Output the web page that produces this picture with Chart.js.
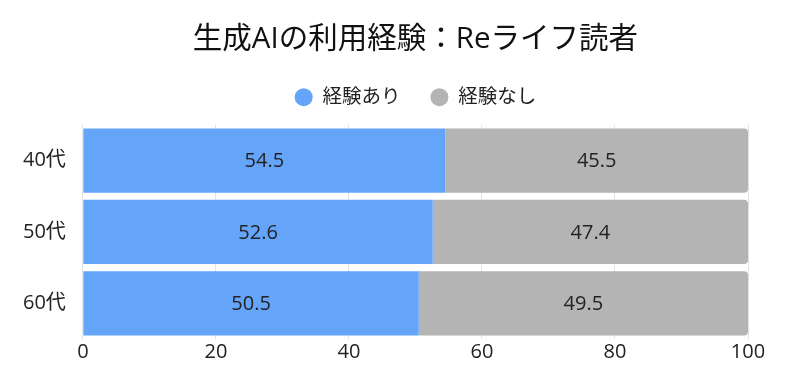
<!DOCTYPE html>
<html>
<head>
<meta charset="utf-8">
<script src="https://cdn.jsdelivr.net/npm/chart.js@4/dist/chart.umd.min.js"></script>
<style>
  html,body{margin:0;padding:0;background:#fff;}
</style>
</head>
<body>
<canvas id="chart" width="790" height="384"></canvas>
<script>
const ageGroups = ['40代', '50代', '60代'];
const usedValues = [54.5, 52.6, 50.5];
const notUsedValues = [45.5, 47.4, 49.5];
const xTicks = [0, 20, 40, 60, 80, 100];

const FONT = '"Open Sans", "Noto Sans CJK JP", sans-serif';

// values printed in the middle of each bar
const barLabels = {
  id: 'barLabels',
  afterDatasetsDraw(chart){
    const ctx = chart.ctx;
    ctx.save();
    ctx.font = '20px ' + FONT;
    ctx.fillStyle = '#222';
    ctx.textAlign = 'center';
    ctx.textBaseline = 'middle';
    chart.data.datasets.forEach((ds, i)=>{
      chart.getDatasetMeta(i).data.forEach((bar, j)=>{
        const p = bar.getProps(['x','y','base'], true);
        ctx.fillText(ds.data[j].toFixed(1), (p.x + p.base)/2, p.y + 1);
      });
    });
    ctx.restore();
  }
};

// a little extra room under the legend
const legendGap = {
  id: 'legendGap',
  beforeInit(chart){
    const fit = chart.legend.fit;
    chart.legend.fit = function(){ fit.call(this); this.height += 8; };
  }
};

new Chart(document.getElementById('chart'), {
  type: 'bar',
  data: {
    labels: ageGroups,
    datasets: [
      { label: '経験あり', data: usedValues, backgroundColor: '#64a5fa', categoryPercentage: 0.9, barPercentage: 1 },
      { label: '経験なし', data: notUsedValues, backgroundColor: '#b4b4b4', borderRadius: 4, categoryPercentage: 0.9, barPercentage: 1 }
    ]
  },
  options: {
    indexAxis: 'y',
    responsive: false,
    animation: false,
    layout: { padding: { left: 14, right: 42, bottom: 19 } },
    plugins: {
      title: { display: true, fullSize: false, text: '生成AIの利用経験：Reライフ読者', color: '#111',
        font: { family: FONT, size: 29.5, weight: 'normal' }, padding: { top: 22, bottom: 0 } },
      legend: { fullSize: false, labels: { usePointStyle: true, pointStyle: 'circle', boxWidth: 12.7, boxHeight: 12.7,
        pointStyleWidth: 18, padding: 30, color: '#222', font: { family: FONT, size: 19.5 } } },
      tooltip: { enabled: false }
    },
    scales: {
      x: { stacked: true, min: 0, max: 100,
        afterBuildTicks: (ax)=>{ ax.ticks = xTicks.map(v=>({ value: v })); },
        grid: { color: '#e2e2e2', drawTicks: false },
        border: { display: false },
        ticks: { color: '#222', padding: 1, font: { family: FONT, size: 20 } } },
      y: { stacked: true,
        grid: { display: false },
        border: { display: false },
        ticks: { color: '#222', padding: 9, font: { family: FONT, size: 20 } } }
    }
  },
  plugins: [barLabels, legendGap]
});
</script>
</body>
</html>
